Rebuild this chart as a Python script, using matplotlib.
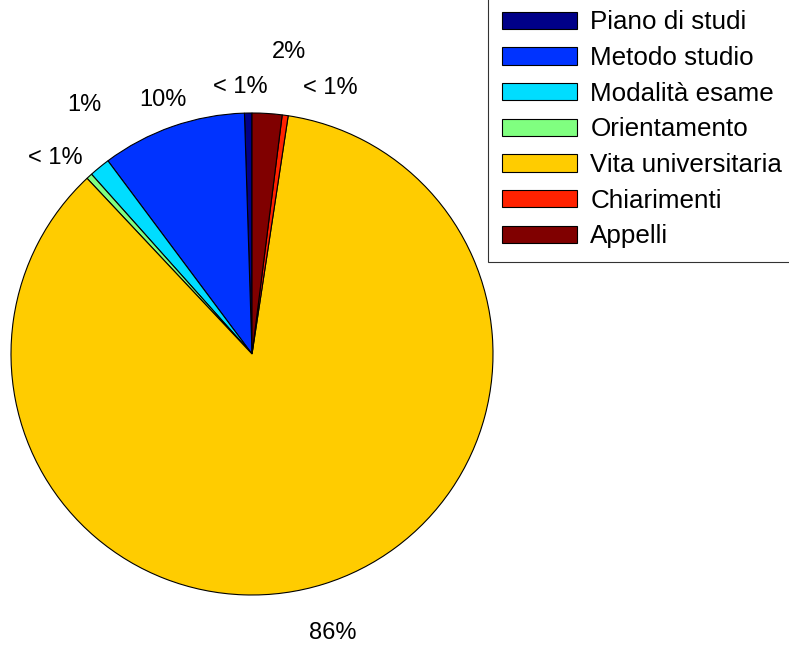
import matplotlib.pyplot as plt

plt.rcParams['font.family'] = ['Liberation Sans', 'DejaVu Sans']

categories = ['Piano di studi', 'Metodo studio', 'Modalità esame', 'Orientamento',
              'Vita universitaria', 'Chiarimenti', 'Appelli']
shares = [0.5, 9.7, 1.4, 0.4, 85.6, 0.4, 2.0]
pct_labels = ['< 1%', '10%', '1%', '< 1%', '86%', '< 1%', '2%']
colors = ['#000088', '#0033FF', '#00DDFF', '#80FF80', '#FFCC00', '#FF2200', '#800000']

# label positions in pie units (radius = 1)
label_pos = [(-0.05, 1.108), (-0.369, 1.054), (-0.697, 1.033), (-0.817, 0.813),
             (0.336, -1.158), (0.324, 1.104), (0.154, 1.253)]

W, H = 789, 648
cx, cy, r = 252, 354, 241

fig = plt.figure(figsize=(W / 100, H / 100), dpi=100)
ax = fig.add_axes([0, 0, 1, 1])

wedges, _ = ax.pie(shares, colors=colors, startangle=90, counterclock=True,
                   wedgeprops=dict(edgecolor='black', linewidth=0.8))

for (x, y), txt in zip(label_pos, pct_labels):
    ax.text(x, y, txt, ha='center', va='center', fontsize=17)

ax.set_xlim(-cx / r, (W - cx) / r)
ax.set_ylim(-(H - cy) / r, cy / r)
ax.set_aspect('auto')
ax.axis('off')

leg = ax.legend(wedges, categories, loc='lower left',
                bbox_to_anchor=(488 / W, 1 - 262 / H), bbox_transform=fig.transFigure,
                fontsize=18.7, frameon=True, fancybox=False, edgecolor='black',
                handlelength=2.92, handleheight=0.66, handletextpad=0.5,
                labelspacing=0.45, borderpad=0.52, borderaxespad=0)
leg.get_frame().set_linewidth(0.8)

fig.savefig('out.png', dpi=100, facecolor='white')
